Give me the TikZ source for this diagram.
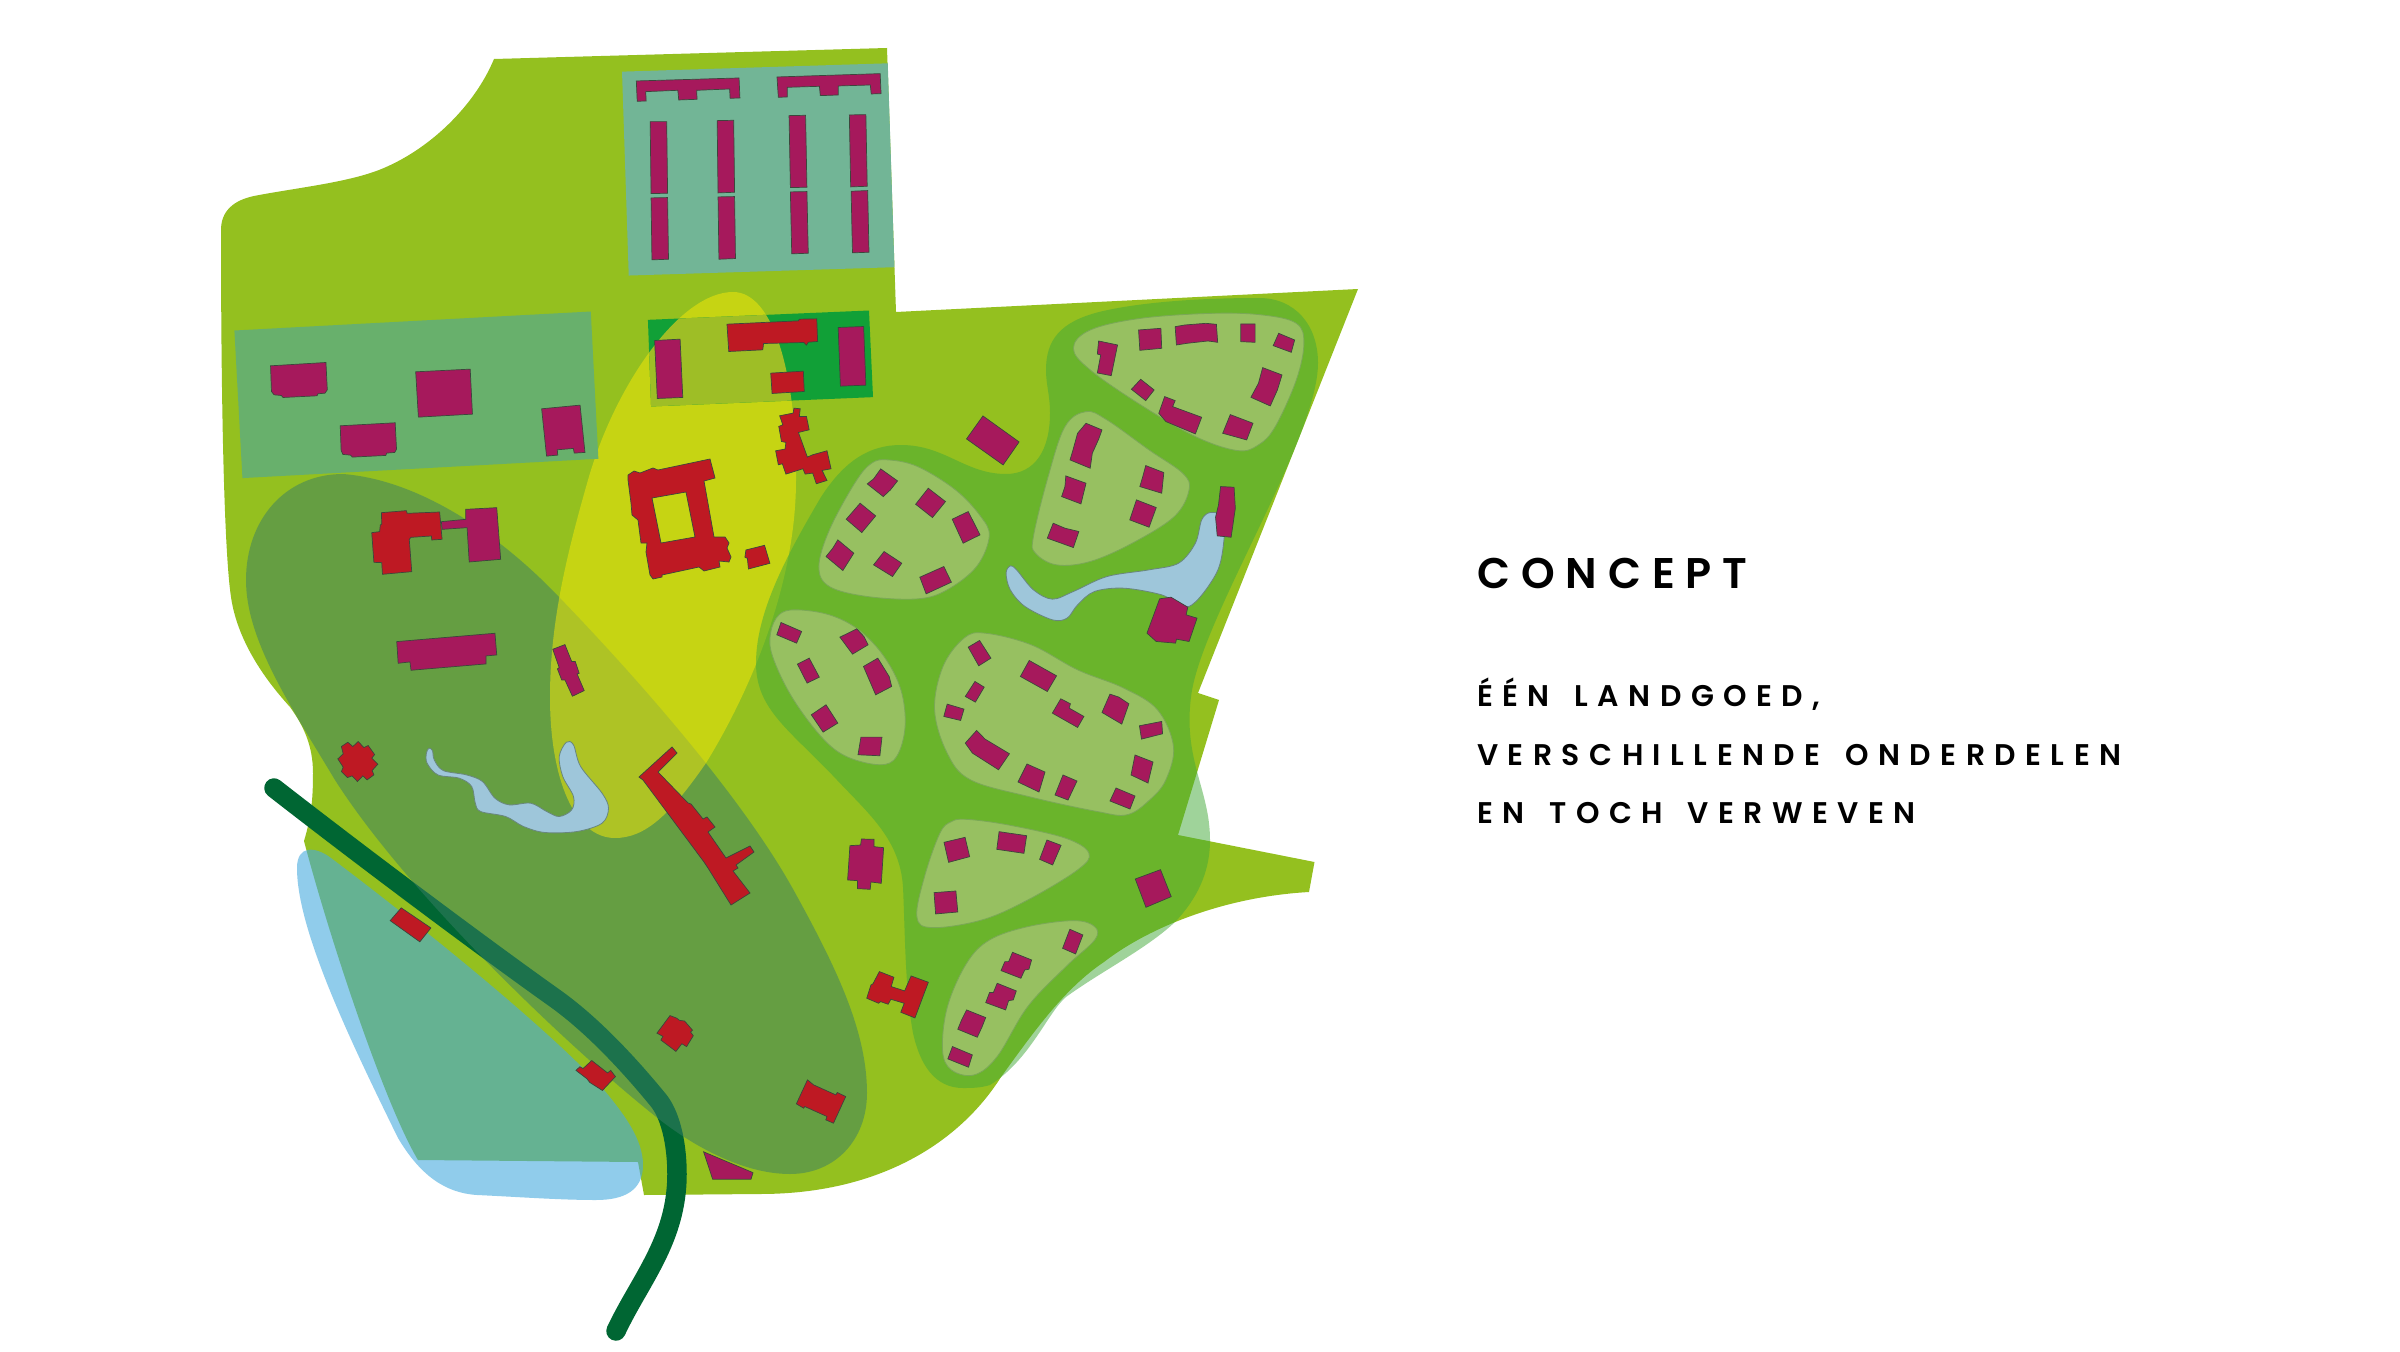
\documentclass[tikz,border=0pt]{standalone}
\usepackage{fontspec}
\newfontfamily\headfont[LetterSpace=25.5]{Poppins SemiBold}
\newfontfamily\subfont[LetterSpace=31.7,WordSpace=1.5]{Poppins SemiBold}
\definecolor{base}{RGB}{148,192,31}
\definecolor{bluez}{RGB}{70,170,223}
\definecolor{road}{RGB}{0,102,51}
\definecolor{olive}{RGB}{56,126,101}
\definecolor{yel}{RGB}{248,232,9}
\definecolor{zone}{RGB}{65,169,55}
\definecolor{patchc}{RGB}{151,192,97}
\definecolor{patchb}{RGB}{122,168,86}
\definecolor{pondc}{RGB}{158,198,218}
\definecolor{pondb}{RGB}{105,135,125}
\definecolor{teal}{RGB}{114,181,150}
\definecolor{leftr}{RGB}{104,176,108}
\definecolor{darkr}{RGB}{17,160,55}
\definecolor{darkrl}{RGB}{158,190,38}
\definecolor{pur}{RGB}{166,25,92}
\definecolor{redb}{RGB}{190,25,35}
\definecolor{edgeb}{RGB}{60,70,60}
\tikzset{
 purb/.style={fill=pur,draw=edgeb,line width=0.6pt,line join=miter},
 redbd/.style={fill=redb,draw=edgeb,line width=0.6pt,line join=miter},
 patchs/.style={fill=patchc,draw=patchb,line width=0.7pt},
 ponds/.style={fill=pondc,draw=pondb,line width=0.7pt},
 za/.style={shift={(6cm,-0.9cm)},x=0.013393cm,y=-0.01cm},
 zb/.style={shift={(21.6cm,-8.4cm)},x=0.012626cm,y=-0.01cm},
 zc/.style={shift={(22.8cm,-23.4cm)},x=0.011481cm,y=-0.01cm},
 zd/.style={shift={(6.6cm,-14.4cm)},x=0.010714cm,y=-0.01cm},
 ze/.style={shift={(7.2cm,-23.4cm)},x=0.011858cm,y=-0.010949cm},
}
\newcommand\pb[1]{\path[purb] plot coordinates {#1} -- cycle;}
\newcommand\rb[1]{\path[redbd] plot coordinates {#1} -- cycle;}
\newcommand\pa[1]{\path[patchs] plot[smooth cycle,tension=.6] coordinates {#1};}
\newcommand\yellowpath{(733,292) .. controls (775,292) and (797,380) .. (796,480) .. controls (796,590) and (745,700) .. (706,763) .. controls (670,815) and (645,838) .. (615,838) .. controls (575,838) and (550,780) .. (550,697) .. controls (550,620) and (568,550) .. (588,480) .. controls (615,385) and (680,292) .. (733,292) -- cycle}
\begin{document}
\begin{tikzpicture}[x=0.03cm,y=-0.03cm]
\useasboundingbox (0,0) rectangle (2400,1352);
\fill[white] (0,0) rectangle (2400,1352);
% estate
\fill[base] (494,59) -- (887,48) -- (896,312) -- (1358,289) -- (1198,693) -- (1219,700) -- (1178,835) -- (1314.5,862) -- (1309,892)
 .. controls (1220,897) and (1145,930) .. (1104,962)
 .. controls (1065,988) and (1035,1030) .. (1001,1077)
 .. controls (960,1142) and (880,1194) .. (760,1194)
 -- (644,1195) -- (638,1162) -- (418,1160)
 .. controls (385,1105) and (330,940) .. (304,841)
 .. controls (312,815) and (313,795) .. (313,773)
 .. controls (313,745) and (303,725) .. (290,707)
 .. controls (270,685) and (238,645) .. (231,597)
 .. controls (224,550) and (221,400) .. (221,230)
 .. controls (221,210) and (235,200) .. (254,196)
 .. controls (295,188) and (345,183) .. (379,170)
 .. controls (430,150) and (475,105) .. (494,59) -- cycle;
% blue zone
\fill[bluez,opacity=.6] (297,868) .. controls (297,930) and (350,1040) .. (398,1138)
 .. controls (420,1175) and (445,1193) .. (477,1195)
 .. controls (520,1197) and (560,1200) .. (596,1200)
 .. controls (625,1200) and (643,1190) .. (643,1165)
 .. controls (643,1140) and (625,1115) .. (604,1090)
 .. controls (550,1030) and (420,925) .. (331,858)
 .. controls (315,846) and (297,845) .. (297,868) -- cycle;
% road
\draw[road,line width=19.5*0.03cm,line cap=round] (274,788) .. controls (360,855) and (480,945) .. (556,999)
 .. controls (595,1027) and (632,1068) .. (659,1101)
 .. controls (672,1118) and (677,1148) .. (677,1174)
 .. controls (677,1240) and (640,1280) .. (616,1331);
% wooded ellipse
\fill[olive,opacity=.5] (343,474) .. controls (420,480) and (500,535) .. (559,597)
 .. controls (615,655) and (735,785) .. (793,889)
 .. controls (835,965) and (867,1030) .. (867,1093)
 .. controls (867,1140) and (835,1174) .. (790,1174)
 .. controls (745,1174) and (695,1148) .. (655,1116)
 .. controls (560,1040) and (405,890) .. (335,780)
 .. controls (290,705) and (246,640) .. (246,580)
 .. controls (246,520) and (285,474) .. (343,474) -- cycle;
% yellow
\fill[yel,opacity=.5] \yellowpath;
% rectangles
\fill[teal] [za] (945,125) -- (1540,100) -- (1555,712) -- (960,737) -- cycle;
\fill[leftr] [za] (77,902) -- (875,845) -- (892,1287) -- (95,1345) -- cycle;
\fill[darkr] [za] (1003,870) -- (1498,842) -- (1507,1102) -- (1010,1130) -- cycle;
\begin{scope}
\clip \yellowpath;
\fill[darkrl] [za] (1003,870) -- (1498,842) -- (1507,1102) -- (1010,1130) -- cycle;
\end{scope}
% green zone
\fill[zone,opacity=.5] (1259,298) .. controls (1295,298) and (1318,325) .. (1318,363)
 .. controls (1318,440) and (1200,620) .. (1191,697)
 .. controls (1183,760) and (1210,790) .. (1210,840)
 .. controls (1210,875) and (1195,900) .. (1177,920)
 .. controls (1150,947) and (1100,972) .. (1066,997)
 .. controls (1048,1012) and (1030,1060) .. (990,1085)
 .. controls (980,1088) and (972,1088) .. (963,1088)
 .. controls (935,1088) and (920,1065) .. (913,1033)
 .. controls (905,990) and (905,930) .. (903,887)
 .. controls (900,840) and (870,815) .. (837,780)
 .. controls (790,730) and (756,710) .. (756,663)
 .. controls (756,610) and (790,550) .. (821,497)
 .. controls (845,460) and (870,445) .. (901,445)
 .. controls (945,445) and (965,474) .. (1006,474)
 .. controls (1035,474) and (1050,450) .. (1050,413)
 .. controls (1050,395) and (1046,385) .. (1046,370)
 .. controls (1046,340) and (1060,322) .. (1099,312)
 .. controls (1140,302) and (1200,298) .. (1259,298) -- cycle;
% patches
\begin{scope}[zb]
\pa{(840,205)(880,150)(1000,115)(1170,100)(1290,105)(1370,130)(1388,190)(1370,300)(1320,440)(1280,495)(1230,512)(1130,470)(1000,375)(880,270)}
\pa{(870,395)(920,420)(1020,510)(1100,580)(1115,630)(1080,710)(980,790)(880,845)(800,855)(750,820)(745,770)(780,590)(820,440)}
\pa{(400,540)(470,560)(560,630)(620,710)(640,770)(610,860)(540,930)(470,957)(350,950)(260,920)(235,860)(260,750)(320,610)(360,550)}
\pa{(180,990)(260,1005)(330,1050)(390,1130)(430,1230)(440,1340)(420,1430)(380,1455)(300,1430)(240,1370)(170,1250)(125,1130)(120,1060)(140,1005)}
\pa{(630,1060)(740,1095)(850,1170)(960,1225)(1040,1290)(1078,1400)(1060,1500)(1022,1560)(968,1605)(895,1595)(732,1550)(595,1500)(540,1420)(510,1290)(530,1160)(580,1075)}
\path[ponds] plot[smooth cycle,tension=.55] coordinates {(690,858)(705,870)(745,930)(790,958)(840,935)(920,890)(1020,870)(1090,850)(1130,790)(1145,720)(1165,698)(1195,710)(1198,780)(1180,880)(1115,980)(1050,945)(960,925)(890,935)(850,975)(825,1015)(790,1020)(725,980)(690,930)(680,880)};
\end{scope}
\begin{scope}[zc]
\pa{(540,118)(650,135)(800,175)(860,220)(830,270)(700,360)(580,420)(450,443)(410,410)(430,290)(470,160)(500,125)}
\pa{(820,422)(875,440)(875,480)(800,560)(700,680)(620,830)(560,885)(500,870)(477,810)(490,680)(540,550)(600,480)(700,440)}
\end{scope}
\begin{scope}[zd]
\path[ponds] plot[smooth cycle,tension=.55] coordinates {(585,805)(595,812)(600,840)(625,872)(690,885)(735,905)(770,955)(810,975)(870,970)(915,995)(950,1010)(985,990)(990,950)(960,890)(950,830)(970,787)(990,795)(1010,860)(1070,940)(1088,985)(1070,1030)(1000,1055)(910,1058)(850,1040)(800,1010)(730,995)(715,970)(705,920)(670,895)(610,885)(580,850)(578,820)};
\end{scope}
% buildings zoom A
\begin{scope}[za]
\pb{(977,153)(1207,144)(1209,204)(1187,205)(1186,177)(1112,181)(1113,208)(1072,210)(1070,181)(998,185)(999,213)(979,214)}
\pb{(1292,141)(1523,131)(1525,191)(1503,192)(1501,165)(1429,168)(1429,195)(1389,197)(1387,169)(1315,172)(1315,201)(1295,202)}
\pb{(1008,275)(1045,275)(1047,490)(1010,491)}
\pb{(1010,504)(1047,503)(1049,688)(1012,690)}
\pb{(1158,272)(1195,271)(1197,487)(1160,489)}
\pb{(1160,501)(1197,500)(1199,686)(1162,688)}
\pb{(1319,257)(1356,256)(1359,472)(1322,473)}
\pb{(1322,486)(1359,485)(1362,670)(1325,672)}
\pb{(1454,255)(1491,254)(1494,469)(1457,471)}
\pb{(1458,484)(1495,482)(1498,667)(1461,669)}
\pb{(158,1008)(282,998)(285,1080)(280,1090)(264,1092)(262,1098)(186,1103)(182,1097)(166,1095)(160,1085)}
\pb{(483,1026)(605,1018)(610,1153)(489,1162)}
\pb{(314,1188)(437,1179)(440,1258)(436,1268)(418,1270)(416,1277)(341,1282)(337,1276)(320,1274)(316,1262)}
\pb{(765,1137)(851,1126)(862,1268)(838,1270)(836,1256)(800,1260)(801,1276)(776,1279)}
\pb{(1018,932)(1075,928)(1081,1103)(1024,1106)}
\pb{(1429,893)(1486,890)(1491,1066)(1434,1069)}
\rb{(1180,883)(1340,873)(1342,868)(1381,867)(1383,935)(1362,937)(1358,946)(1352,938)(1262,941)(1260,960)(1184,965)}
\rb{(1278,1030)(1351,1024)(1353,1085)(1281,1091)}
\rb{(1330,1135)(1344,1137)(1342,1160)(1358,1160)(1364,1200)(1340,1208)(1360,1282)(1372,1275)(1404,1263)(1413,1317)(1393,1322)(1404,1352)(1380,1362)(1372,1330)(1355,1333)(1350,1317)(1312,1333)(1304,1302)(1295,1305)(1289,1263)(1310,1258)(1312,1238)(1302,1235)(1296,1190)(1305,1185)(1298,1158)(1328,1150)}
\end{scope}
% courtyard building
\path[redbd,even odd rule] (628,475) -- (634,471) -- (640,473) -- (653,468) -- (658,470) -- (710,459) -- (715,478) -- (704,481) -- (714,537) -- (725,537) -- (729,543) -- (727,548) -- (731,557) -- (729,562) -- (719,561) -- (720,567) -- (704,571) -- (699,567) -- (662,575) -- (662,577) -- (653,579) -- (650,575) -- (646,552) -- (647,543) -- (641,543) -- (638,520) -- (632,515) -- (631,503) -- (628,480) -- cycle
 (652,498) -- (686,492) -- (695,537) -- (661,543) -- cycle;
% buildings zoom D
\begin{scope}[zd]
\pb{(620,125)(688,118)(688,88)(775,83)(786,238)(698,246)(692,143)(622,148)}
\rb{(452,98)(522,92)(524,100)(615,96)(622,178)(593,180)(592,168)(535,172)(530,178)(537,275)(455,283)(453,248)(431,247)(425,158)(447,155)(449,135)(453,132)}
\rb{(1473,210)(1525,196)(1540,250)(1480,267)(1477,235)(1470,232)}
\pb{(495,485)(770,460)(775,525)(745,528)(745,552)(535,571)(532,546)(499,550)}
\pb{(932,508)(966,494)(985,545)(995,545)(1006,580)(1000,582)(1020,632)(987,649)(966,600)(957,600)(945,567)(950,563)}
\rb{(340,800)(358,787)(372,800)(387,785)(403,803)(415,797)(433,824)(425,835)(442,853)(426,872)(431,885)(412,900)(400,888)(385,905)(370,888)(357,893)(340,875)(345,862)(330,837)(345,822)}
\end{scope}
% long red building
\rb{(672,747)(677,753)(658,772)(688,803)(691,804)(703,819)(707,817)(715,827)(708,832)(726,858)(750,846)(754,852)(736,865)(738,868)(733,871)(750,893)(731,905)(708,868)(704,862)(643,780)(639,777)}
% buildings zoom B
\begin{scope}[zb]
\pb{(900,183)(945,195)(930,287)(897,279)(905,225)(897,222)}
\pb{(995,150)(1048,145)(1050,205)(998,211)}
\pb{(1082,140)(1105,135)(1155,130)(1180,133)(1183,187)(1160,183)(1110,190)(1085,195)}
\pb{(1238,132)(1272,132)(1272,187)(1238,185)}
\pb{(1328,160)(1366,180)(1358,217)(1315,197)}
\pb{(1290,263)(1336,285)(1325,330)(1308,378)(1262,352)(1280,310)}
\pb{(1000,298)(1032,330)(1012,362)(978,328)}
\pb{(1057,350)(1082,362)(1076,380)(1145,412)(1130,462)(1060,425)(1043,400)}
\pb{(1213,404)(1267,430)(1252,480)(1215,467)(1195,460)}
\pb{(870,430)(908,450)(900,478)(885,520)(880,565)(832,540)(838,515)(850,460)}
\pb{(1012,557)(1055,578)(1050,640)(998,620)(1005,590)}
\pb{(822,588)(870,610)(858,672)(812,650)(820,620)}
\pb{(990,660)(1037,683)(1020,742)(974,720)}
\pb{(792,730)(820,745)(853,755)(840,803)(778,775)}
\pb{(625,408)(711,486)(673,555)(586,477)}
\pb{(1190,620)(1222,622)(1225,685)(1215,772)(1182,768)(1178,712)(1185,675)}
\pb{(1045,957)(1072,952)(1112,982)(1108,1005)(1134,1015)(1115,1085)(1085,1078)(1083,1090)(1037,1085)(1015,1060)}
\pb{(382,567)(422,603)(405,630)(388,650)(350,612)(365,597)}
\pb{(495,625)(536,665)(505,713)(465,673)}
\pb{(333,670)(370,708)(337,758)(300,718)}
\pb{(552,718)(590,695)(618,765)(578,790)}
\pb{(280,780)(318,820)(292,872)(252,830)(268,805)}
\pb{(390,815)(432,850)(410,890)(365,855)}
\pb{(475,892)(532,860)(550,907)(490,942)}
\pb{(145,1028)(194,1055)(182,1090)(135,1065)}
\pb{(325,1047)(342,1070)(352,1095)(315,1123)(285,1072)}
\pb{(212,1135)(236,1192)(207,1210)(184,1153)}
\pb{(375,1135)(402,1190)(408,1220)(370,1245)(341,1160)}
\pb{(252,1275)(280,1330)(245,1357)(217,1305)}
\pb{(335,1372)(385,1372)(380,1428)(328,1425)}
\pb{(617,1082)(644,1135)(615,1158)(590,1102)}
\pb{(735,1142)(800,1188)(778,1235)(714,1190)}
\pb{(606,1205)(628,1222)(607,1267)(583,1250)}
\pb{(540,1273)(580,1288)(572,1322)(532,1310)}
\pb{(810,1257)(833,1272)(830,1285)(865,1310)(850,1343)(790,1300)}
\pb{(927,1243)(948,1252)(972,1272)(955,1333)(908,1298)}
\pb{(997,1338)(1050,1325)(1052,1362)(1002,1378)}
\pb{(610,1352)(630,1378)(688,1422)(662,1470)(600,1420)(583,1390)}
\end{scope}
\pb{(1027,764)(1045,772)(1039,792)(1018,782)}
\pb{(1063,775)(1077,781)(1068,800)(1055,795)}
\pb{(1116,788)(1135,796)(1130,809)(1110,801)}
\pb{(1135,755)(1153,762)(1148,783)(1131,775)}
% buildings zoom C
\begin{scope}[zc]
\pb{(481,187)(536,172)(548,230)(493,247)}
\pb{(625,155)(697,167)(690,220)(619,208)}
\pb{(750,180)(787,196)(765,255)(731,238)}
\pb{(455,338)(512,333)(517,396)(459,402)}
\pb{(810,448)(844,465)(825,522)(791,505)}
\pb{(660,517)(710,540)(703,568)(692,570)(682,595)(630,572)(640,545)(650,545)}
\pb{(620,610)(670,633)(662,660)(650,662)(642,690)(590,668)(600,638)(610,638)}
\pb{(540,690)(590,713)(580,742)(568,772)(517,748)(527,720)}
\pb{(503,800)(555,825)(545,862)(491,837)}
\pb{(981,297)(1047,269)(1075,350)(1009,382)}
\pb{(235,197)(263,195)(265,177)(298,178)(298,200)(323,203)(317,310)(290,306)(288,328)(255,326)(255,302)(229,300)}
\rb{(312,575)(350,592)(343,620)(378,633)(395,588)(440,607)(405,714)(368,697)(377,670)(342,658)(335,673)(315,665)(310,670)(279,655)(290,615)(295,612)}
\rb{(124,900)(140,915)(198,945)(202,938)(224,950)(192,1030)(172,1020)(175,1010)(117,980)(114,985)(95,972)}
\end{scope}
% buildings zoom E
\begin{scope}[ze]
\rb{(408,350)(483,405)(455,443)(380,385)}
\rb{(890,768)(930,802)(938,795)(950,812)(917,850)(885,828)(878,818)(850,795)(860,785)(868,790)}
\rb{(1088,645)(1105,652)(1112,658)(1125,660)(1145,685)(1140,690)(1147,700)(1130,730)(1118,722)(1103,743)(1065,712)(1070,702)(1055,693)}
\pb{(1173,1018)(1298,1075)(1293,1093)(1196,1093)}
\end{scope}
% text
\node[anchor=base west,inner sep=0pt] (title) at (1477,588) {\fontsize{36.6pt}{40pt}\headfont CONCEPT};
\node[anchor=base west,inner sep=0pt] (l1) at (1477,706) {\fontsize{25.5pt}{30pt}\subfont ÉÉN LANDGOED,};
\node[anchor=base west,inner sep=0pt] (l2) at (1477,765) {\fontsize{25.5pt}{30pt}\subfont VERSCHILLENDE ONDERDELEN};
\node[anchor=base west,inner sep=0pt] (l3) at (1477,823) {\fontsize{25.5pt}{30pt}\subfont EN TOCH VERWEVEN};
\end{tikzpicture}
\end{document}
